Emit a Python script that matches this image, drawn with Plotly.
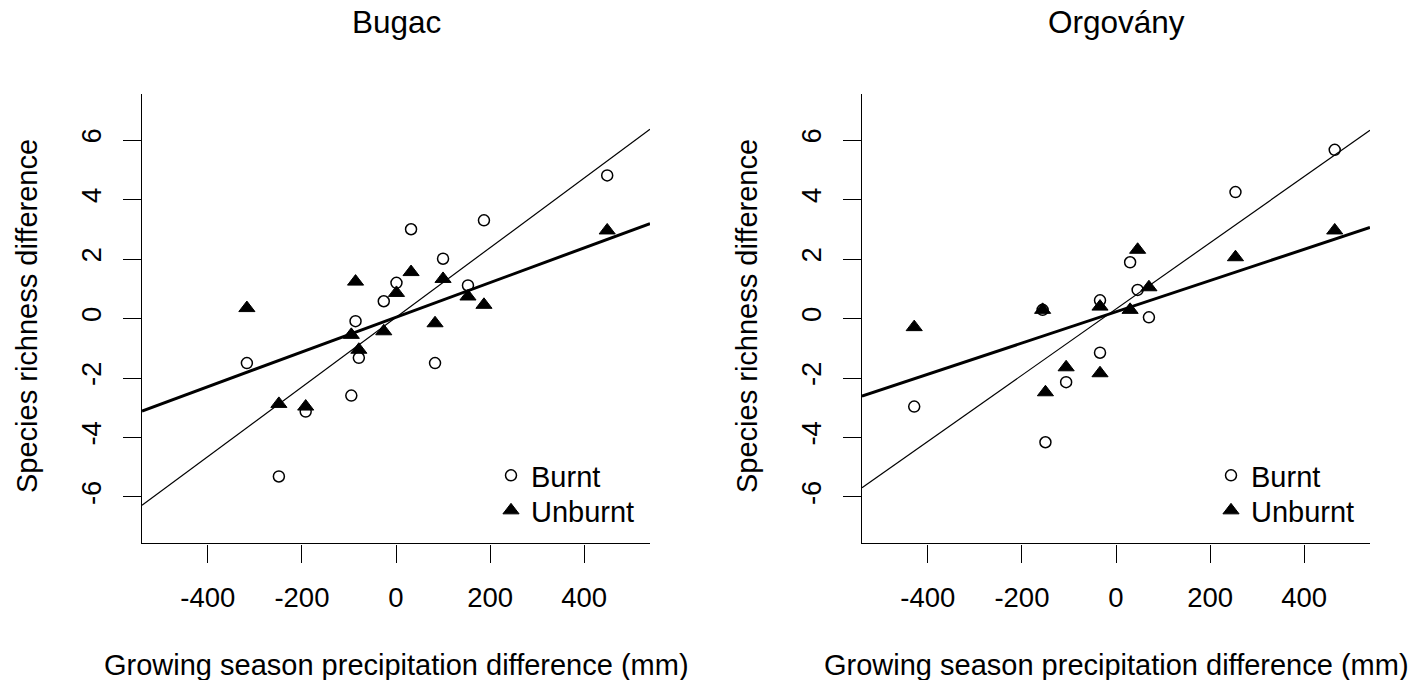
import plotly.graph_objects as go

# ---------------- data ----------------
# Bugac
bug_x = [-317, -249, -192, -95, -86, -79, -26, 1, 32, 83, 100, 153, 187, 449]
bug_burnt = [-1.50, -5.31, -3.13, -2.59, -0.09, -1.32, 0.58, 1.20, 3.00, -1.50, 2.01, 1.11, 3.30, 4.81]
bug_unburnt = [0.35, -2.87, -2.96, -0.55, 1.24, -1.05, -0.43, 0.86, 1.56, -0.16, 1.33, 0.74, 0.46, 2.96]
bug_fit_x = [-540, 540]
bug_burnt_fit = [-6.28, 6.36]
bug_unburnt_fit = [-3.11, 3.19]

# Orgovány
org_x = [-429, -156, -150, -106, -34, -34, 30, 46, 70, 254, 465]
org_burnt = [-2.96, 0.29, -4.16, -2.14, 0.61, -1.15, 1.89, 0.96, 0.04, 4.25, 5.67]
org_unburnt = [-0.29, 0.29, -2.48, -1.64, 0.40, -1.84, 0.29, 2.31, 1.05, 2.06, 2.96]
org_fit_x = [-540, 540]
org_burnt_fit = [-5.69, 6.33]
org_unburnt_fit = [-2.61, 3.06]

titles = ["Bugac", "Orgovány"]
x_title = "Growing season precipitation difference (mm)"
y_title = "Species richness difference"
x_ticks = [-400, -200, 0, 200, 400]
x_tick_labels = ["-400", "-200", "0", "200", "400"]
y_ticks = [-6, -4, -2, 0, 2, 4, 6]
y_tick_labels = ["-6", "-4", "-2", "0", "2", "4", "6"]

# ---------------- figure ----------------
FONT = "Liberation Sans, Arial, Helvetica, sans-serif"
W, H = 1426, 680

fig = go.Figure()

panels = [
    (bug_x, bug_burnt, bug_unburnt, bug_fit_x, bug_burnt_fit, bug_unburnt_fit, "x", "y", "legend", "legend2"),
    (org_x, org_burnt, org_unburnt, org_fit_x, org_burnt_fit, org_unburnt_fit, "x2", "y2", "legend3", "legend4"),
]

for xs, yb, yu, fx, fb, fu, xa, ya, lg_b, lg_u in panels:
    fig.add_trace(go.Scatter(
        x=xs, y=yb, mode="markers", name="Burnt", legend=lg_b,
        xaxis=xa, yaxis=ya,
        marker=dict(symbol="circle-open", size=11, color="black",
                    line=dict(width=1.5, color="black")),
    ))
    fig.add_trace(go.Scatter(
        x=xs, y=yu, mode="markers", name="Unburnt", legend=lg_u,
        xaxis=xa, yaxis=ya,
        marker=dict(symbol="triangle-up", size=14, color="black",
                    line=dict(width=1, color="black")),
    ))
    fig.add_trace(go.Scatter(
        x=fx, y=fb, mode="lines", showlegend=False, hoverinfo="skip",
        xaxis=xa, yaxis=ya, line=dict(color="black", width=1.2),
    ))
    fig.add_trace(go.Scatter(
        x=fx, y=fu, mode="lines", showlegend=False, hoverinfo="skip",
        xaxis=xa, yaxis=ya, line=dict(color="black", width=3),
    ))

ax_common = dict(
    showline=True, linecolor="black", linewidth=1.3, mirror=False,
    ticks="outside", ticklen=18, tickwidth=1.3, tickcolor="black",
    showgrid=False, zeroline=False, ticklabelstandoff=11,
    tickfont=dict(family=FONT, size=27.5, color="black"),
)

y_dom = [1 - 543.4 / H, 1 - 93.6 / H]
x_doms = [[142 / W, 650 / W], [862 / W, 1370 / W]]

legend_common = dict(
    xref="paper", yref="paper", xanchor="left", yanchor="top",
    font=dict(family=FONT, size=29, color="black"),
    bgcolor="rgba(0,0,0,0)", borderwidth=0, tracegroupgap=0, itemwidth=30,
)

fig.update_layout(
    width=W, height=H, autosize=False,
    margin=dict(l=0, r=0, t=0, b=0),
    paper_bgcolor="white", plot_bgcolor="white",
    font=dict(family=FONT, color="black"),
    xaxis=dict(domain=x_doms[0], range=[-540, 540], tickvals=x_ticks, ticktext=x_tick_labels,
               anchor="y", **ax_common),
    yaxis=dict(domain=y_dom, range=[-7.56, 7.56], tickvals=y_ticks, ticktext=y_tick_labels,
               tickangle=-90, anchor="x", **ax_common),
    xaxis2=dict(domain=x_doms[1], range=[-540, 540], tickvals=x_ticks, ticktext=x_tick_labels,
                anchor="y2", **ax_common),
    yaxis2=dict(domain=y_dom, range=[-7.56, 7.56], tickvals=y_ticks, ticktext=y_tick_labels,
                tickangle=-90, anchor="x2", **ax_common),
    legend=dict(x=491 / W, y=1 - 450 / H, **legend_common),
    legend2=dict(x=491 / W, y=1 - 485 / H, **legend_common),
    legend3=dict(x=1211 / W, y=1 - 450 / H, **legend_common),
    legend4=dict(x=1211 / W, y=1 - 485 / H, **legend_common),
)

centers = [396 / W, 1116 / W]
ytitle_x = [27 / W, 747 / W]
for i in range(2):
    fig.add_annotation(text=titles[i], x=centers[i], y=1 - 22 / H, xref="paper", yref="paper",
                       showarrow=False, xanchor="center", yanchor="middle",
                       font=dict(family=FONT, size=31.5, color="black"))
    fig.add_annotation(text=x_title, x=centers[i], y=1 - 665 / H, xref="paper", yref="paper",
                       showarrow=False, xanchor="center", yanchor="middle",
                       font=dict(family=FONT, size=29, color="black"))
    fig.add_annotation(text=y_title, x=ytitle_x[i], y=1 - 316 / H, xref="paper", yref="paper",
                       showarrow=False, xanchor="center", yanchor="middle", textangle=-90,
                       font=dict(family=FONT, size=29, color="black"))

fig.write_html(
    "out.html",
    config={"displayModeBar": False},
    post_script="document.body.style.margin='0px';document.body.style.overflow='hidden';",
)
